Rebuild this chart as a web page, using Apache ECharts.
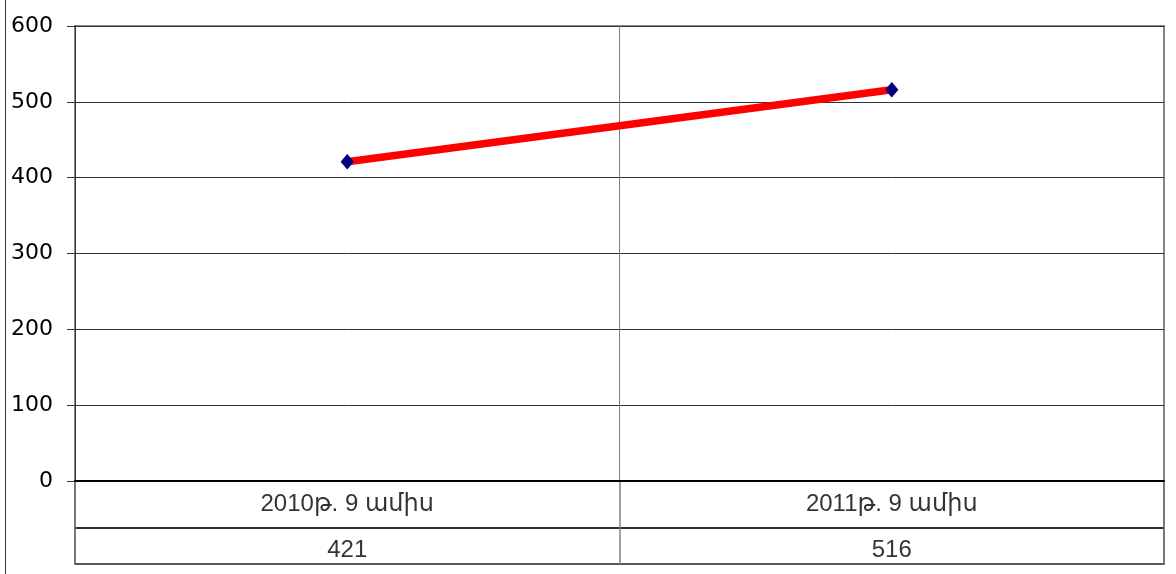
<!DOCTYPE html>
<html><head><meta charset="utf-8">
<script src="https://cdn.jsdelivr.net/npm/echarts@6/dist/echarts.min.js"></script>
<style>html,body{margin:0;padding:0;background:#fff}#c{width:1176px;height:574px}</style>
</head><body><div id="c"></div>
<script>
const categories = ['2010թ. 9 ամիս', '2011թ. 9 ամիս'];
const values = [421, 516];
const yTicks = [0, 100, 200, 300, 400, 500, 600];

const font = "'DejaVu Sans', 'Liberation Sans', sans-serif";
const tableFont = "'Liberation Sans', 'DejaVu Sans', sans-serif";
const chart = echarts.init(document.getElementById('c'));
const catRow = categories.map((c, i) => ({ value: [i, 0.5], text: c }));
const valRow = values.map((v, i) => ({ value: [i, 0.5], text: String(v) }));
const tableX = gi => ({ type: 'category', gridIndex: gi, data: categories, boundaryGap: true,
  axisLine: { show: false }, axisTick: { show: false }, axisLabel: { show: false },
  splitLine: { show: true, lineStyle: { color: '#808080', width: 1.5 } } });
const tableY = gi => ({ type: 'value', gridIndex: gi, min: 0, max: 1, show: false, splitLine: { show: false } });
const tableLabel = { show: true, position: 'inside', color: '#000', fontFamily: tableFont, fontSize: 24,
  formatter: p => p.data.text };
chart.setOption({
  animation: false,
  backgroundColor: '#fff',
  graphic: [{ type: 'line', shape: { x1: 5.5, y1: 0, x2: 5.5, y2: 574 }, style: { stroke: '#333', lineWidth: 1 } }],
  grid: [
    { left: 75, right: 12, top: 26, height: 455, show: true, borderColor: '#888', borderWidth: 2 },
    { left: 75, right: 12, top: 481, height: 47, show: true, borderColor: '#222', borderWidth: 1.5 },
    { left: 75, right: 12, top: 528, height: 36, show: true, borderColor: '#222', borderWidth: 1.5 }
  ],
  xAxis: [
    { type: 'category', gridIndex: 0, data: categories, boundaryGap: true,
      axisLine: { lineStyle: { color: '#000', width: 2 } }, axisTick: { show: false }, axisLabel: { show: false },
      splitLine: { show: true, lineStyle: { color: '#808080', width: 1 } } },
    tableX(1), tableX(2)
  ],
  yAxis: [
    { type: 'value', gridIndex: 0, min: 0, max: 600, interval: 100,
      axisLine: { show: true, lineStyle: { color: '#333', width: 1 } },
      axisTick: { show: true, length: 8, lineStyle: { color: '#333' } },
      axisLabel: { color: '#000', fontFamily: font, fontSize: 22, margin: 22 },
      splitLine: { show: true, lineStyle: { color: '#333', width: 1 } } },
    tableY(1), tableY(2)
  ],
  series: [
    { type: 'line', xAxisIndex: 0, yAxisIndex: 0, data: values,
      lineStyle: { color: '#ff0000', width: 7.5 },
      symbol: 'diamond', symbolSize: [12, 14], showAllSymbol: true,
      itemStyle: { color: '#000080', borderColor: '#000080' }, z: 3 },
    { type: 'scatter', xAxisIndex: 1, yAxisIndex: 1, data: catRow, symbolSize: 0, label: tableLabel, silent: true },
    { type: 'scatter', xAxisIndex: 2, yAxisIndex: 2, data: valRow, symbolSize: 0,
      label: Object.assign({}, tableLabel, { offset: [0, 4] }), silent: true }
  ]
});
</script></body></html>
